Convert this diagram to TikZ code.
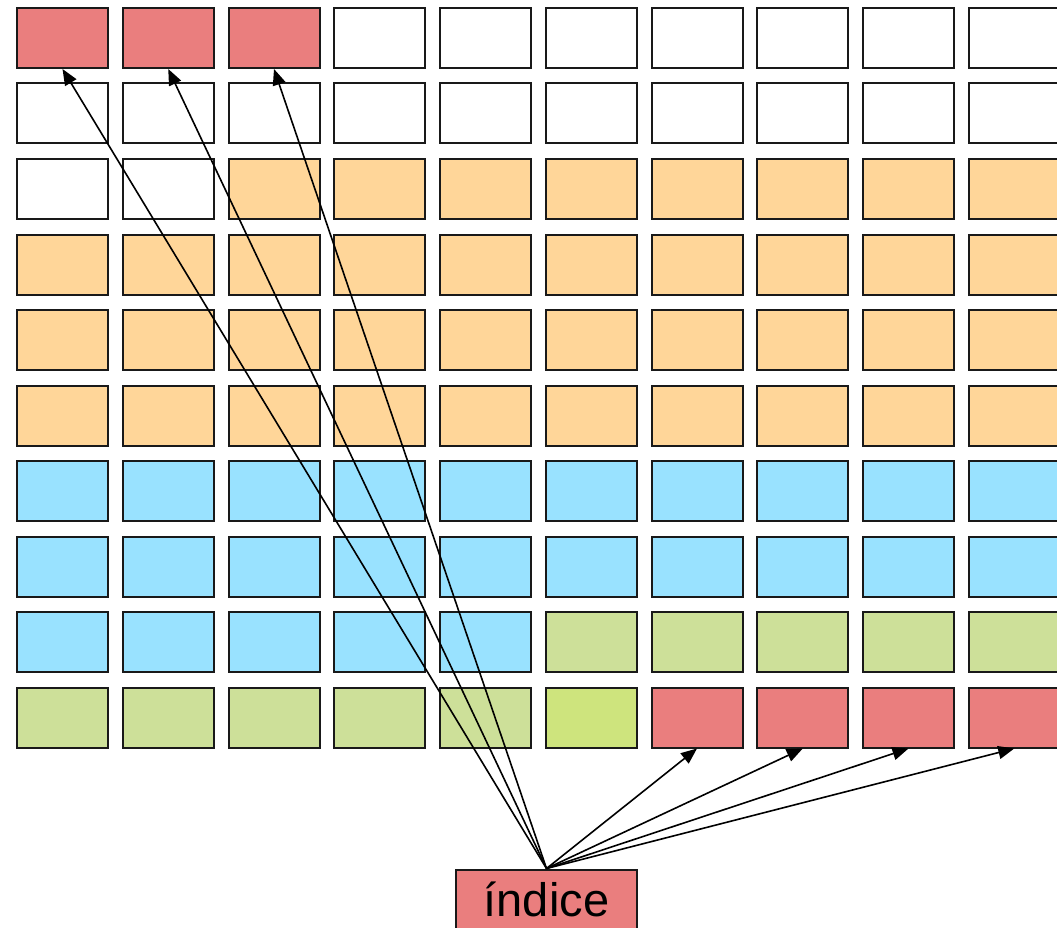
\documentclass[tikz,border=0pt]{standalone}
\usepackage{fontspec}
\setmainfont{Liberation Sans}
\usetikzlibrary{arrows.meta}
\definecolor{cR}{RGB}{234,126,126}
\definecolor{cW}{RGB}{255,255,255}
\definecolor{cO}{RGB}{255,214,153}
\definecolor{cB}{RGB}{153,226,255}
\definecolor{cG}{RGB}{205,224,153}
\definecolor{cY}{RGB}{206,228,125}
\tikzset{
  cell/.style={draw=black!90, line width=2pt, minimum width=91pt, minimum height=60pt, inner sep=0pt},
  idxbox/.style={draw=black!90, line width=2pt, fill=cR, minimum width=181pt, minimum height=70pt, inner sep=0pt, text height=33pt, text depth=10pt, font=\fontsize{47}{50}\selectfont},
  ptr/.style={line width=1.6pt, -{Triangle[length=16pt,width=13pt]}}
}
\begin{document}
\begin{tikzpicture}[x=1pt,y=-1pt]
\useasboundingbox (0,0) rectangle (1057,928);
\clip (0,0) rectangle (1057,928);
\foreach \r/\colors in {
  0/{R,R,R,W,W,W,W,W,W,W},
  1/{W,W,W,W,W,W,W,W,W,W},
  2/{W,W,O,O,O,O,O,O,O,O},
  3/{O,O,O,O,O,O,O,O,O,O},
  4/{O,O,O,O,O,O,O,O,O,O},
  5/{O,O,O,O,O,O,O,O,O,O},
  6/{B,B,B,B,B,B,B,B,B,B},
  7/{B,B,B,B,B,B,B,B,B,B},
  8/{B,B,B,B,B,G,G,G,G,G},
  9/{G,G,G,G,G,Y,R,R,R,R}} {
  \foreach \col [count=\c from 0] in \colors {
    \node[cell, fill=c\col] (c\r-\c) at ({62.5+\c*105.75}, {38+\r*75.5}) {};
  }
}
\node[idxbox] (idx) at (546.5,904.5) {índice};
\foreach \c in {0,1,2} \draw[ptr] (idx.north) -- (c0-\c.south);
\foreach \c in {6,7,8,9} \draw[ptr] (idx.north) -- (c9-\c.south);
\end{tikzpicture}
\end{document}
